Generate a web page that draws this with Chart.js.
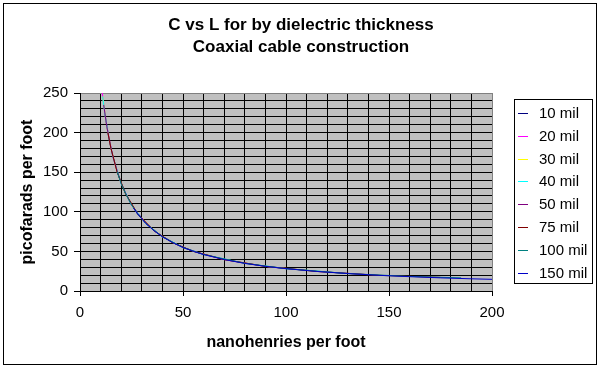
<!DOCTYPE html>
<html>
<head>
<meta charset="utf-8">
<script src="https://cdn.jsdelivr.net/npm/chart.js@4"></script>
<style>
  html, body { margin: 0; padding: 0; background: #fff; }
  #wrap { width: 600px; height: 367px; }
</style>
</head>
<body>
<div id="wrap"><canvas id="myChart" width="600" height="367"></canvas></div>
<script>
// values: nanohenries per foot (x) and picofarads per foot (y)
const seriesLabels = ['10 mil', '20 mil', '30 mil', '40 mil', '50 mil', '75 mil', '100 mil', '150 mil'];

const inductance10 = [12, 14, 16, 20, 25, 32, 40, 50, 60];
const capacitance10 = [225.1, 193.2, 169.2, 135.6, 108.7, 85.2, 68.5, 55.0, 46.1];

const inductance20 = [10, 11, 13, 16, 20, 25, 32, 40, 50, 60, 70, 80, 90, 100];
const capacitance20 = [270.0, 245.5, 207.9, 169.2, 135.6, 108.7, 85.2, 68.5, 55.0, 46.1, 39.7, 34.9, 31.1, 28.2];

const inductance30 = [11, 13, 15, 18, 22, 28, 36, 45, 55, 70, 90, 115];
const capacitance30 = [245.5, 207.9, 180.4, 150.5, 123.4, 97.2, 75.9, 61.0, 50.1, 39.7, 31.1, 24.7];

const inductance40 = [11, 12, 14, 16, 20, 25, 32, 40, 50, 60, 80, 100, 130];
const capacitance40 = [245.5, 225.1, 193.2, 169.2, 135.6, 108.7, 85.2, 68.5, 55.0, 46.1, 34.9, 28.2, 22.0];

const inductance50 = [11.5, 13, 15, 18, 22, 28, 36, 45, 55, 70, 90, 115, 145];
const capacitance50 = [234.9, 207.9, 180.4, 150.5, 123.4, 97.2, 75.9, 61.0, 50.1, 39.7, 31.1, 24.7, 19.8];

const inductance75 = [13.5, 15, 18, 22, 28, 36, 45, 55, 70, 90, 115, 145, 175];
const capacitance75 = [200.3, 180.4, 150.5, 123.4, 97.2, 75.9, 61.0, 50.1, 39.7, 31.1, 24.7, 19.8, 17.2];

const inductance100 = [18, 20, 22, 25, 28, 32, 40, 50, 60, 80, 100, 130, 160, 185];
const capacitance100 = [150.5, 135.6, 123.4, 108.7, 97.2, 85.2, 68.5, 55.0, 46.1, 34.9, 28.2, 22.0, 18.4, 16.6];

const inductance150 = [26, 28, 32, 36, 40, 45, 50, 55, 60, 70, 80, 90, 100, 115, 130, 145, 160, 175, 190, 205];
const capacitance150 = [104.6, 97.2, 85.2, 75.9, 68.5, 61.0, 55.0, 50.1, 46.1, 39.7, 34.9, 31.1, 28.2, 24.7, 22.0, 19.8, 18.1, 16.6, 15.4, 14.4];

const xValues = [inductance10, inductance20, inductance30, inductance40, inductance50, inductance75, inductance100, inductance150];
const yValues = [capacitance10, capacitance20, capacitance30, capacitance40, capacitance50, capacitance75, capacitance100, capacitance150];

const lineColors = ['#000080', '#FF00FF', '#FFFF00', '#00FFFF', '#800080', '#800000', '#008080', '#0000C8'];

const FONT = '"Liberation Sans", Arial, sans-serif';

const toPoints = (xs, ys) => xs.map((x, i) => ({ x: x, y: ys[i] }));

const datasets = seriesLabels.map((label, i) => ({
  label: label,
  data: toPoints(xValues[i], yValues[i]),
  borderColor: lineColors[i],
  backgroundColor: lineColors[i],
  borderWidth: 1,
  pointRadius: 0,
  showLine: true,
  tension: 0,
  // later series are painted on top, like Excel
  order: seriesLabels.length - i,
}));

const excelFrame = {
  id: 'excelFrame',
  beforeDraw(chart) {
    const { ctx, chartArea: a } = chart;
    ctx.save();
    ctx.fillStyle = '#fff';
    ctx.fillRect(0, 0, chart.width, chart.height);
    ctx.fillStyle = '#C0C0C0';
    ctx.fillRect(a.left, a.top, a.right - a.left, a.bottom - a.top);
    ctx.restore();
  },
  afterDraw(chart) {
    const { ctx } = chart;
    ctx.save();
    // outer border
    ctx.strokeStyle = '#000';
    ctx.lineWidth = 1;
    ctx.strokeRect(3.5, 3.5, 593, 361);

    // title
    ctx.fillStyle = '#000';
    ctx.font = 'bold 17px ' + FONT;
    ctx.textAlign = 'center';
    ctx.textBaseline = 'middle';
    ctx.fillText('C vs L for by dielectric thickness', 301, 25);
    ctx.fillText('Coaxial cable construction', 301, 47);

    // legend
    ctx.strokeRect(514.5, 99.5, 78, 184);
    ctx.font = '15px ' + FONT;
    ctx.textAlign = 'left';
    chart.data.datasets.forEach((ds, i) => {
      const y = Math.round(113 + i * 22.8) + 0.5;
      ctx.strokeStyle = ds.borderColor;
      ctx.beginPath();
      ctx.moveTo(518, y);
      ctx.lineTo(528, y);
      ctx.stroke();
      ctx.fillStyle = '#000';
      ctx.fillText(ds.label, 539, y);
    });
    ctx.restore();
  },
};

const gridColor = (edgeValue) => (c) => (c.tick && c.tick.value === edgeValue ? '#808080' : '#000');
const majorTick = (c) => (c.tick && c.tick.value % 50 === 0 ? '#000' : 'rgba(0,0,0,0)');

const ctx = document.getElementById('myChart').getContext('2d');
const myChart = new Chart(ctx, {
  type: 'scatter',
  data: { datasets: datasets },
  plugins: [excelFrame],
  options: {
    responsive: false,
    animation: false,
    layout: { padding: { left: 3, right: 108, top: 93, bottom: 4 } },
    plugins: {
      legend: { display: false },
      title: { display: false },
      tooltip: { enabled: false },
    },
    scales: {
      x: {
        type: 'linear',
        min: 0,
        max: 200,
        afterFit: (s) => { s.height = 72; },
        border: { color: '#000', width: 1 },
        grid: { color: gridColor(200), lineWidth: 1, tickLength: 5, tickColor: majorTick },
        ticks: {
          stepSize: 10,
          autoSkip: false,
          maxRotation: 0,
          padding: 8,
          color: '#000',
          font: { family: FONT, size: 15 },
          callback: (v) => (v % 50 === 0 ? v : ''),
        },
        title: {
          display: true,
          text: 'nanohenries per foot',
          color: '#000',
          font: { family: FONT, size: 16, weight: 'bold' },
          padding: { top: 4, bottom: 11 },
        },
      },
      y: {
        type: 'linear',
        min: 0,
        max: 250,
        afterFit: (s) => { s.width = 77; },
        border: { color: '#000', width: 1 },
        grid: { color: gridColor(250), lineWidth: 1, tickLength: 6, tickColor: majorTick },
        ticks: {
          stepSize: 10,
          autoSkip: false,
          padding: 6,
          color: '#000',
          font: { family: FONT, size: 15 },
          callback: (v) => (v % 50 === 0 ? v : ''),
        },
        title: {
          display: true,
          text: 'picofarads per foot',
          color: '#000',
          font: { family: FONT, size: 16, weight: 'bold' },
          padding: { top: 15, bottom: 4 },
        },
      },
    },
  },
});
</script>
</body>
</html>
